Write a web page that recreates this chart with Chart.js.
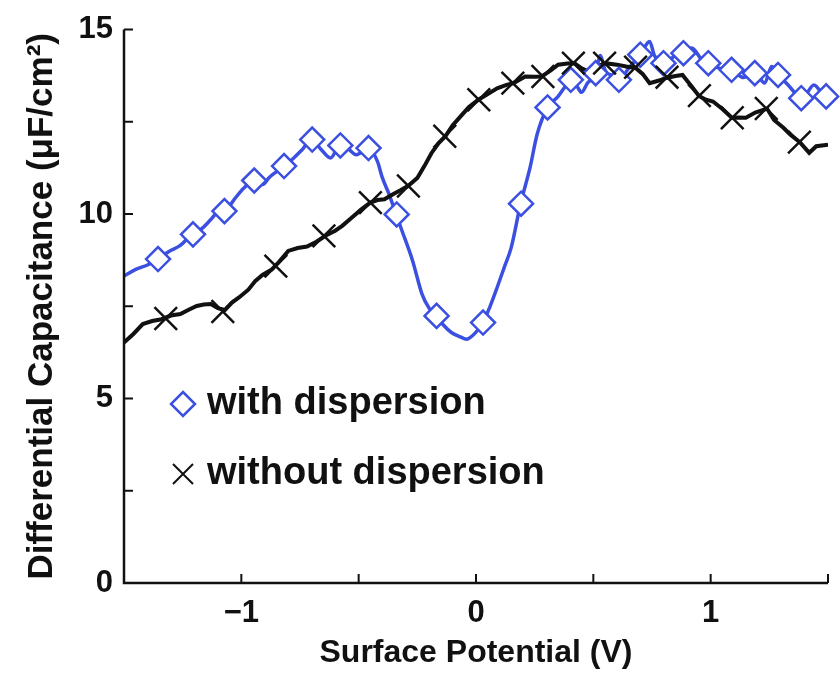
<!DOCTYPE html>
<html>
<head>
<meta charset="utf-8">
<script src="https://cdn.jsdelivr.net/npm/chart.js@4.4.1/dist/chart.umd.min.js"></script>
<style>
  html, body { margin: 0; padding: 0; background: #fff; }
  #wrap { width: 840px; height: 673px; }
</style>
</head>
<body>
<div id="wrap"><canvas id="chart"></canvas></div>
<script>
// surface potential (V) / capacitance (uF/cm2) traces
const withDispX = [-1.50, -1.45, -1.40, -1.355, -1.31, -1.26, -1.21, -1.17, -1.13, -1.10, -1.07, -1.03, -0.99, -0.945, -0.91, -0.88, -0.85, -0.82, -0.78, -0.74, -0.70, -0.66, -0.62, -0.58, -0.55, -0.51, -0.46, -0.42, -0.40, -0.37, -0.34, -0.32, -0.27, -0.23, -0.20, -0.17, -0.14, -0.105, -0.07, -0.04, 0.00, 0.03, 0.06, 0.09, 0.12, 0.15, 0.19, 0.23, 0.26, 0.305, 0.35, 0.38, 0.40, 0.43, 0.45, 0.475, 0.51, 0.53, 0.55, 0.58, 0.61, 0.65, 0.70, 0.74, 0.76, 0.80, 0.85, 0.88, 0.92, 0.96, 0.99, 1.04, 1.09, 1.14, 1.19, 1.23, 1.26, 1.29, 1.33, 1.39, 1.44, 1.49, 1.50];
const withDispY = [8.32, 8.50, 8.62, 8.78, 8.98, 9.15, 9.45, 9.60, 9.85, 10.05, 10.08, 10.40, 10.70, 10.91, 10.80, 11.00, 11.15, 11.30, 11.50, 11.75, 12.02, 11.75, 11.52, 11.86, 11.80, 11.61, 11.79, 11.43, 11.00, 10.53, 9.99, 9.63, 8.73, 7.83, 7.45, 7.24, 7.00, 6.79, 6.68, 6.61, 6.80, 7.06, 7.50, 8.01, 8.55, 9.09, 10.28, 11.25, 12.15, 12.89, 13.19, 13.46, 13.64, 13.46, 13.30, 13.55, 13.82, 14.30, 13.90, 13.75, 13.64, 13.95, 14.32, 14.68, 14.30, 14.09, 14.30, 14.36, 14.50, 14.20, 14.09, 13.95, 13.91, 13.70, 13.82, 13.55, 14.00, 13.77, 13.50, 13.14, 13.50, 13.19, 13.20];

const noDispX = [-1.50, -1.46, -1.42, -1.38, -1.34, -1.30, -1.26, -1.22, -1.19, -1.16, -1.13, -1.10, -1.07, -1.04, -1.01, -0.97, -0.94, -0.91, -0.87, -0.84, -0.80, -0.76, -0.72, -0.68, -0.64, -0.60, -0.57, -0.53, -0.49, -0.45, -0.42, -0.39, -0.35, -0.32, -0.29, -0.25, -0.22, -0.19, -0.16, -0.13, -0.10, -0.06, -0.03, 0.01, 0.05, 0.09, 0.13, 0.16, 0.21, 0.25, 0.28, 0.32, 0.35, 0.39, 0.42, 0.45, 0.48, 0.51, 0.55, 0.60, 0.64, 0.68, 0.71, 0.74, 0.78, 0.81, 0.85, 0.88, 0.92, 0.95, 0.98, 1.01, 1.05, 1.09, 1.12, 1.15, 1.19, 1.24, 1.27, 1.31, 1.34, 1.38, 1.42, 1.45, 1.50];
const noDispY = [6.52, 6.75, 7.02, 7.10, 7.15, 7.25, 7.29, 7.42, 7.51, 7.55, 7.56, 7.45, 7.40, 7.60, 7.74, 7.95, 8.19, 8.35, 8.50, 8.70, 9.00, 9.08, 9.12, 9.25, 9.42, 9.55, 9.68, 9.90, 10.12, 10.31, 10.38, 10.40, 10.55, 10.65, 10.76, 10.98, 11.30, 11.65, 11.92, 12.11, 12.40, 12.69, 12.90, 13.10, 13.25, 13.41, 13.50, 13.55, 13.73, 13.72, 13.73, 13.90, 14.05, 14.08, 14.09, 13.95, 13.86, 13.98, 14.09, 14.05, 14.00, 13.96, 13.80, 13.55, 13.62, 13.69, 13.74, 13.77, 13.45, 13.20, 13.10, 13.05, 12.85, 12.61, 12.62, 12.61, 12.75, 12.86, 12.55, 12.34, 12.15, 11.95, 11.66, 11.84, 11.88];

// symbols sit on the traces every so often
const diamondX = [-1.355, -1.206, -1.072, -0.945, -0.818, -0.698, -0.578, -0.458, -0.338, -0.168, 0.030, 0.192, 0.305, 0.404, 0.510, 0.609, 0.700, 0.799, 0.884, 0.990, 1.089, 1.188, 1.287, 1.386, 1.492];
const diamondY = [8.78, 9.45, 10.08, 10.91, 11.30, 12.02, 11.86, 11.79, 9.99, 7.24, 7.06, 10.28, 12.89, 13.64, 13.82, 13.64, 14.32, 14.09, 14.36, 14.09, 13.91, 13.82, 13.77, 13.14, 13.19];
const crossX = [-1.322, -1.079, -0.853, -0.648, -0.450, -0.288, -0.133, 0.012, 0.157, 0.285, 0.415, 0.548, 0.680, 0.814, 0.952, 1.092, 1.237, 1.378];
const crossY = [7.17, 7.36, 8.59, 9.41, 10.31, 10.76, 12.11, 13.10, 13.55, 13.73, 14.09, 14.09, 13.98, 13.71, 13.21, 12.61, 12.86, 11.95];

const seriesNames = ['with dispersion', 'without dispersion'];
const xMajor = [-1, 0, 1];
const yMajor = [0, 5, 10, 15];

const BLUE = '#3b4fe0';
const FONT = "'Liberation Sans', Arial, sans-serif";

const pts = (xs, ys) => xs.map((x, i) => ({x: x, y: ys[i]}));

// inward tick marks + legend inside the plot
const axisDecor = {
    id: 'axisDecor',
    afterDraw(chart) {
        const ctx = chart.ctx;
        const xs = chart.scales.x, ys = chart.scales.y;
        const area = chart.chartArea;
        ctx.save();
        ctx.strokeStyle = '#111';
        ctx.lineWidth = 2.5;
        ctx.lineCap = 'butt';
        ctx.beginPath();
        ctx.moveTo(area.left, area.top);
        ctx.lineTo(area.left, area.bottom);
        ctx.lineTo(area.right, area.bottom);
        ctx.stroke();
        ctx.lineWidth = 2;
        ctx.beginPath();
        ys.ticks.forEach(t => {
            const py = ys.getPixelForValue(t.value);
            ctx.moveTo(area.left, py);
            ctx.lineTo(area.left + 9, py);
        });
        xs.ticks.forEach(t => {
            const px = xs.getPixelForValue(t.value);
            ctx.moveTo(px, area.bottom);
            ctx.lineTo(px, area.bottom - 9);
        });
        ctx.stroke();

        // legend
        ctx.font = 'bold 38px ' + FONT;
        ctx.textBaseline = 'middle';
        ctx.fillStyle = '#111';
        const lx = 183, ly1 = 404, ly2 = 474;
        ctx.strokeStyle = BLUE;
        ctx.lineWidth = 2.5;
        ctx.beginPath();
        ctx.moveTo(lx, ly1 - 12);
        ctx.lineTo(lx + 12, ly1);
        ctx.lineTo(lx, ly1 + 12);
        ctx.lineTo(lx - 12, ly1);
        ctx.closePath();
        ctx.stroke();
        ctx.fillText(seriesNames[0], 207, ly1);
        ctx.strokeStyle = '#111';
        ctx.lineWidth = 2;
        ctx.beginPath();
        ctx.moveTo(lx - 10, ly2 - 10);
        ctx.lineTo(lx + 10, ly2 + 10);
        ctx.moveTo(lx + 10, ly2 - 10);
        ctx.lineTo(lx - 10, ly2 + 10);
        ctx.stroke();
        ctx.fillText(seriesNames[1], 207, ly2);
        ctx.restore();
    }
};

new Chart(document.getElementById('chart'), {
    type: 'scatter',
    data: {
        datasets: [
            {
                label: seriesNames[1] + ' symbols',
                data: pts(crossX, crossY),
                pointStyle: 'crossRot',
                pointRadius: 16,
                borderColor: '#111',
                borderWidth: 2.5,
                showLine: false,
                clip: false
            },
            {
                label: seriesNames[0] + ' symbols',
                data: pts(diamondX, diamondY),
                pointStyle: 'rectRot',
                pointRadius: 12,
                borderColor: BLUE,
                backgroundColor: '#fff',
                borderWidth: 2.5,
                showLine: false,
                clip: false
            },
            {
                label: seriesNames[1],
                data: pts(noDispX, noDispY),
                showLine: true,
                borderColor: '#111',
                borderWidth: 4,
                pointRadius: 0,
                tension: 0
            },
            {
                label: seriesNames[0],
                data: pts(withDispX, withDispY),
                showLine: true,
                borderColor: BLUE,
                borderWidth: 3.5,
                pointRadius: 0,
                cubicInterpolationMode: 'monotone'
            }
        ]
    },
    options: {
        responsive: true,
        maintainAspectRatio: false,
        animation: false,
        layout: { autoPadding: false, padding: { left: 0, right: 5, top: 28, bottom: 0 } },
        plugins: {
            legend: { display: false },
            tooltip: { enabled: false }
        },
        scales: {
            x: {
                type: 'linear',
                min: -1.5,
                max: 1.5,
                grid: { display: false, drawTicks: false, tickLength: 0 },
                border: { display: false },
                afterFit: (scale) => { scale.height = 90; },
                ticks: {
                    stepSize: 0.5,
                    padding: 12,
                    color: '#111',
                    font: { family: FONT, size: 31, weight: 'bold' },
                    maxRotation: 0,
                    autoSkip: false,
                    callback: (v) => xMajor.includes(v) ? (v < 0 ? '\u2212' + Math.abs(v) : String(v)) : ''
                },
                title: {
                    display: true,
                    text: 'Surface Potential (V)',
                    color: '#111',
                    padding: { top: 0, bottom: 1 },
                    font: { family: FONT, size: 32, weight: 'bold' }
                }
            },
            y: {
                type: 'linear',
                min: 0,
                max: 15,
                grid: { display: false, drawTicks: false, tickLength: 0 },
                border: { display: false },
                afterFit: (scale) => { scale.width = 124; },
                ticks: {
                    stepSize: 2.5,
                    padding: 11,
                    color: '#111',
                    font: { family: FONT, size: 31, weight: 'bold' },
                    autoSkip: false,
                    callback: (v) => yMajor.includes(v) ? String(v) : ''
                },
                title: {
                    display: true,
                    text: 'Differential Capacitance (\u03bcF/cm\u00b2)',
                    color: '#111',
                    padding: { top: 21, bottom: 0 },
                    font: { family: FONT, size: 35, weight: 'bold' }
                }
            }
        }
    },
    plugins: [axisDecor]
});
</script>
</body>
</html>
